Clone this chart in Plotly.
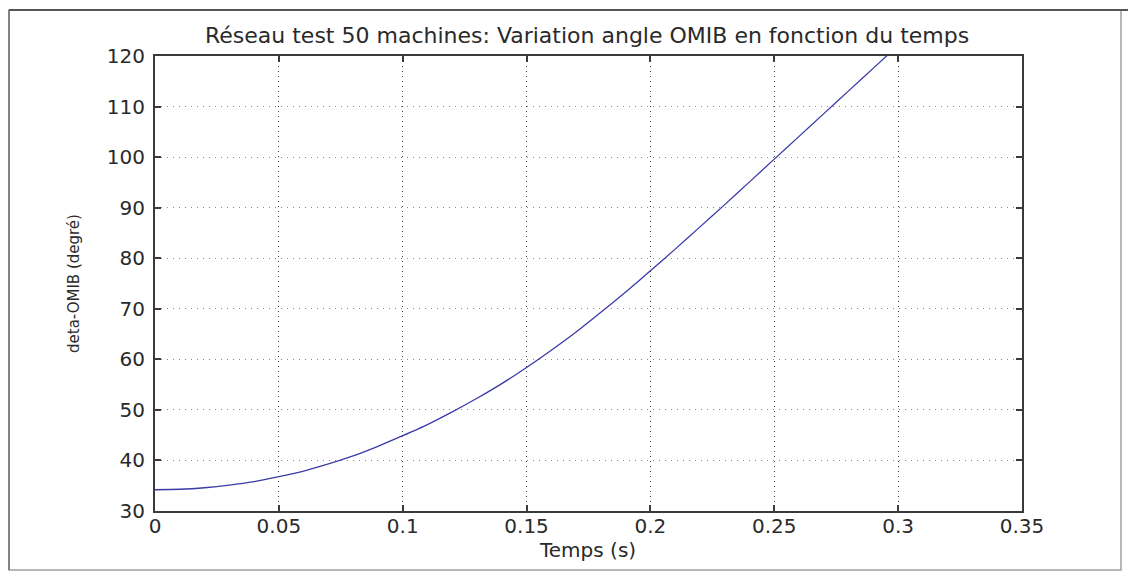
import plotly.graph_objects as go

# Time samples (s) and OMIB rotor angle (degrees)
temps = [0.00, 0.01, 0.02, 0.03, 0.04, 0.05, 0.06, 0.07, 0.08, 0.09,
         0.10, 0.11, 0.12, 0.13, 0.14, 0.15, 0.16, 0.17, 0.18, 0.19,
         0.20, 0.21, 0.22, 0.23, 0.24, 0.25, 0.26, 0.27, 0.28, 0.29, 0.30]
delta_omib = [34.2, 34.3, 34.6, 35.1, 35.8, 36.8, 37.9, 39.3, 40.9, 42.8,
              44.9, 47.1, 49.6, 52.3, 55.2, 58.4, 61.8, 65.4, 69.3, 73.3,
              77.5, 81.8, 86.2, 90.6, 95.1, 99.6, 104.1, 108.6, 113.1, 117.6, 122.1]

x_ticks = [0, 0.05, 0.1, 0.15, 0.2, 0.25, 0.3, 0.35]
x_ticktext = ["0", "0.05", "0.1", "0.15", "0.2", "0.25", "0.3", "0.35"]
y_ticks = [30, 40, 50, 60, 70, 80, 90, 100, 110, 120]

W, H = 1128, 573
L, R, T, B = 155, 1022, 56, 511   # plot-area edges in pixels
pw, ph = R - L, B - T

def px(xp):
    return (xp - L) / pw

def py(yp):
    return (B - yp) / ph

FONT = "DejaVu Sans"
TXT = "#2a2a2a"

fig = go.Figure()
fig.add_trace(go.Scatter(
    x=temps, y=delta_omib, mode="lines",
    line=dict(color="#3b3ba8", width=1.3, shape="spline", smoothing=0.6),
    showlegend=False, hoverinfo="skip",
))

axis_common = dict(
    showline=True, linecolor="#3a3a3a", linewidth=2, mirror="ticks",
    ticks="inside", ticklen=6, tickcolor="#3a3a3a", tickwidth=1.5,
    showgrid=True, gridwidth=1, zeroline=False,
    tickfont=dict(family=FONT, size=20, color=TXT),
)

fig.update_xaxes(
    range=[0, 0.35], tickmode="array", tickvals=x_ticks, ticktext=x_ticktext,
    gridcolor="#3c3c3c", griddash="1px,4px", ticklabelstandoff=-4, **axis_common,
)
fig.update_yaxes(
    range=[30, 120], tickmode="array", tickvals=y_ticks,
    gridcolor="#8a8a8a", griddash="1px,5px", ticklabelstandoff=4, **axis_common,
)

# Outer figure frame
fig.add_shape(type="rect", xref="paper", yref="paper",
              x0=px(9), x1=px(1121), y0=py(570), y1=py(10),
              line=dict(color="#a0a0a0", width=1.5), layer="below")
fig.add_shape(type="line", xref="paper", yref="paper",
              x0=px(9), x1=px(1128), y0=py(10), y1=py(10),
              line=dict(color="#555555", width=2))
fig.add_shape(type="line", xref="paper", yref="paper",
              x0=px(9), x1=px(9), y0=py(570), y1=py(10),
              line=dict(color="#707070", width=1.5))

# Title and axis labels
fig.add_annotation(
    text="Réseau test 50 machines: Variation angle OMIB en fonction du temps",
    xref="paper", yref="paper", x=px(587), y=py(36),
    xanchor="center", yanchor="middle", showarrow=False,
    font=dict(family=FONT, size=22, color=TXT),
)
fig.add_annotation(
    text="Temps (s)", xref="paper", yref="paper", x=px(587), y=py(550),
    xanchor="center", yanchor="middle", showarrow=False,
    font=dict(family=FONT, size=20, color=TXT),
)
fig.add_annotation(
    text="deta-OMIB (degré)", xref="paper", yref="paper", x=px(74), y=py(284),
    xanchor="center", yanchor="middle", textangle=-90, showarrow=False,
    font=dict(family=FONT, size=15, color=TXT),
)

fig.update_layout(
    width=W, height=H,
    margin=dict(l=L, r=W - R, t=T, b=H - B),
    paper_bgcolor="white", plot_bgcolor="white",
)

fig.write_html("out.html")
